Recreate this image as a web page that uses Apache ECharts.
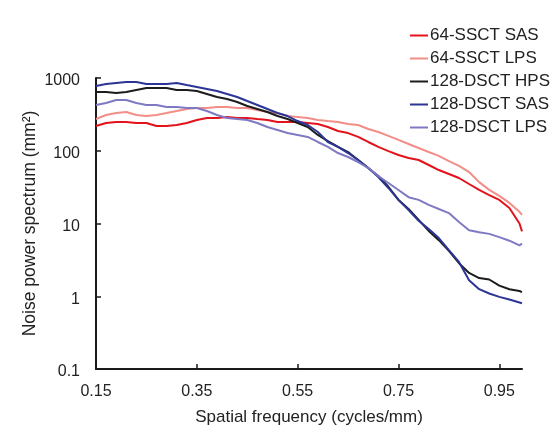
<!DOCTYPE html>
<html>
<head>
<meta charset="utf-8">
<script src="https://cdn.jsdelivr.net/npm/echarts@6/dist/echarts.min.js"></script>
<style>
html,body{margin:0;padding:0;background:#fff;}
#chart{width:550px;height:425px;}
</style>
</head>
<body>
<div id="chart"></div>
<script>
const freq = [0.15,0.17,0.19,0.21,0.23,0.25,0.27,0.29,0.31,0.33,0.35,0.37,0.39,0.41,0.43,0.45,0.47,0.49,0.51,0.53,0.55,0.57,0.59,0.61,0.63,0.65,0.67,0.69,0.71,0.73,0.75,0.77,0.79,0.81,0.83,0.85,0.87,0.89,0.91,0.93,0.95,0.97,0.99,0.995];
const ssctSAS = [219,241,248,248,241,241,219,219,226,241,265,282,282,291,282,282,273,265,248,248,248,241,233,212,187,175,155,132,113,99,87.5,79.5,74.6,63.7,54.3,47.9,42.2,34.9,28.9,24.6,21.1,16.3,10,7.8];
const ssctLPS = [273,310,330,341,310,300,310,330,352,375,387,387,399,399,387,387,363,341,330,300,291,282,265,256,248,233,226,199,181,160,141,124,109,96,85,72,62,51,37,29,24,19.2,14.5,13.1];
const dsctHPS = [642,642,622,642,684,729,729,729,684,684,662,603,548,514,468,412,375,341,300,273,241,212,165,136,113,96,74.6,57.9,45,32,21.1,15.8,11.2,7.9,5.9,4.2,2.85,2.09,1.78,1.7,1.4,1.25,1.18,1.14];
const dsctSAS = [776,827,854,881,881,827,827,827,854,801,752,706,662,603,548,483,426,375,330,300,256,226,181,132,113,93,74.6,57.9,43.6,30.8,21.1,15.3,10.9,8.4,6.3,4.3,2.96,1.66,1.25,1.09,0.98,0.9,0.82,0.8];
const dsctLPS = [426,453,499,499,453,426,426,399,399,387,387,352,310,282,273,265,241,212,193,175,165,155,132,113,93,82,70,57.9,45,36,28.9,23,21.1,18,15.8,13.9,10.5,8.1,7.6,7.2,6.5,5.8,5.0,5.3];
const seriesNames = ['64-SSCT SAS','64-SSCT LPS','128-DSCT HPS','128-DSCT SAS','128-DSCT LPS'];
const seriesValues = [ssctSAS, ssctLPS, dsctHPS, dsctSAS, dsctLPS];
const seriesColors = ['#e3121b','#f28e88','#1c1c1c','#2b3595','#7f79c4'];
const xTicks = [0.15,0.35,0.55,0.75,0.95];
const yTicks = [0.1,1,10,100,1000];
const xTitle = 'Spatial frequency (cycles/mm)';
const yTitle = 'Noise power spectrum (mm\u00B2)';

const font = "'Liberation Sans', Arial, sans-serif";
const chart = echarts.init(document.getElementById('chart'), null, {renderer:'canvas'});
chart.setOption({
  animation: false,
  backgroundColor: '#fff',
  grid: {left: 96, right: 28, top: 78, bottom: 56, containLabel: false, outerBoundsMode: 'none'},
  legend: {
    data: seriesNames,
    orient: 'vertical',
    left: 410, top: 27,
    padding: 0,
    icon: 'rect',
    itemWidth: 18, itemHeight: 2,
    itemGap: 6,
    textStyle: {fontFamily: font, fontSize: 17, color: '#222', lineHeight: 16, padding: [0,0,0,-3]}
  },
  xAxis: {
    type: 'value', min: 0.15, max: 0.995,
    name: xTitle, nameLocation: 'middle', nameGap: 39.5, nameMoveOverlap: false,
    nameTextStyle: {fontFamily: font, fontSize: 17, color: '#222'},
    axisLine: {show: true, onZero: false, lineStyle: {color: '#1a1a1a', width: 2}},
    axisTick: {show: true, inside: true, length: 5, lineStyle: {color: '#1a1a1a', width: 1.5}, customValues: xTicks},
    axisLabel: {fontFamily: font, fontSize: 16, color: '#222', margin: 15, customValues: xTicks,
      formatter: v => v.toFixed(2)},
    splitLine: {show: false}
  },
  yAxis: {
    type: 'log', logBase: 10, min: 0.1, max: 1000,
    name: yTitle, nameLocation: 'middle', nameGap: 57, nameMoveOverlap: false,
    nameTextStyle: {fontFamily: font, fontSize: 17.5, color: '#222'},
    axisLine: {show: true, onZero: false, lineStyle: {color: '#1a1a1a', width: 2}},
    axisTick: {show: true, inside: true, length: 5, lineStyle: {color: '#1a1a1a', width: 1.5}, customValues: yTicks},
    axisLabel: {fontFamily: font, fontSize: 16, color: '#222', margin: 16, customValues: yTicks,
      verticalAlign: 'top', lineHeight: 6,
      formatter: v => String(v)},
    splitLine: {show: false}
  },
  series: seriesNames.map((n, i) => ({
    name: n, type: 'line', showSymbol: false, symbol: 'none',
    data: freq.map((f, j) => [f, seriesValues[i][j]]),
    lineStyle: {color: seriesColors[i], width: 2},
    itemStyle: {color: seriesColors[i]},
    z: 2 + i
  }))
});
</script>
</body>
</html>
